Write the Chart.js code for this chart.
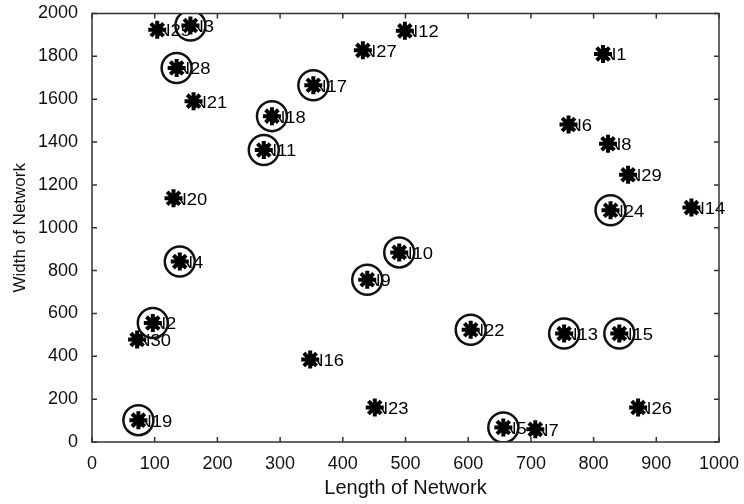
<!DOCTYPE html>
<html>
<head>
<meta charset="utf-8">
<script src="https://cdn.jsdelivr.net/npm/chart.js@4/dist/chart.umd.min.js"></script>
<style>
  html, body { margin: 0; padding: 0; background: #fff; overflow: hidden; }
  #wrap { width: 744px; height: 508px; margin-top: -4px; }
</style>
</head>
<body>
<div id="wrap"><canvas id="networkPlot"></canvas></div>
<script>
// node positions
const nodeIds = [1, 2, 3, 4, 5, 6, 7, 8, 9, 10, 11, 12, 13, 14, 15, 16, 17, 18, 19, 20, 21, 22, 23, 24, 25, 26, 27, 28, 29, 30];
const nodeX = [815, 97, 157, 140, 656, 760, 707, 823, 439, 490, 274, 499, 753, 956, 841, 348, 353, 287, 74, 130, 162, 604, 451, 827, 104, 871, 432, 135, 855, 72];
const nodeY = [1811, 555, 1944, 842, 68, 1482, 59, 1392, 757, 885, 1363, 1919, 506, 1094, 506, 385, 1665, 1521, 102, 1138, 1591, 524, 161, 1082, 1924, 161, 1828, 1746, 1247, 478];
const circledNodes = [2, 3, 4, 5, 9, 10, 11, 13, 15, 17, 18, 19, 22, 24, 28];
const xTicks = [0, 100, 200, 300, 400, 500, 600, 700, 800, 900, 1000];
const yTicks = [0, 200, 400, 600, 800, 1000, 1200, 1400, 1600, 1800, 2000];

var allPoints = [];
var ringPoints = [];
nodeIds.forEach(function (id, i) {
    allPoints.push({ x: nodeX[i], y: nodeY[i], id: id });
    if (circledNodes.indexOf(id) >= 0)
        ringPoints.push({ x: nodeX[i], y: nodeY[i], id: id });
});

const fam = '"Liberation Sans", Arial, sans-serif';

// labels go under the markers, like in the original figure
const nodeLabels = {
    id: 'nodeLabels',
    beforeDatasetsDraw(chart) {
        const ctx = chart.ctx;
        const xs = chart.scales.x, ys = chart.scales.y;
        ctx.save();
        ctx.fillStyle = '#000';
        ctx.font = '16px ' + fam;
        ctx.textAlign = 'left';
        ctx.textBaseline = 'middle';
        allPoints.forEach(p => {
            const px = xs.getPixelForValue(p.x);
            const py = ys.getPixelForValue(p.y);
            ctx.save();
            ctx.translate(px, py + 2);
            ctx.scale(1.15, 1);
            ctx.fillText('N' + p.id, 0, 0);
            ctx.restore();
        });
        ctx.restore();
    }
};

// matlab-ish box with inward ticks
const boxAxes = {
    id: 'boxAxes',
    afterDatasetsDraw(chart) {
        const ctx = chart.ctx;
        const a = chart.chartArea;
        const xs = chart.scales.x, ys = chart.scales.y;
        ctx.save();
        ctx.strokeStyle = '#333';
        ctx.lineWidth = 1.5;
        ctx.strokeRect(a.left, a.top, a.right - a.left, a.bottom - a.top);
        ctx.beginPath();
        xTicks.forEach(v => {
            const px = xs.getPixelForValue(v);
            ctx.moveTo(px, a.bottom); ctx.lineTo(px, a.bottom - 5);
            ctx.moveTo(px, a.top); ctx.lineTo(px, a.top + 5);
        });
        yTicks.forEach(v => {
            const py = ys.getPixelForValue(v);
            ctx.moveTo(a.left, py); ctx.lineTo(a.left + 5, py);
            ctx.moveTo(a.right, py); ctx.lineTo(a.right - 5, py);
        });
        ctx.stroke();
        ctx.restore();
    }
};

const tickFont = { family: fam, size: 18 };

new Chart(document.getElementById('networkPlot'), {
    type: 'scatter',
    data: {
        datasets: [
            {
                label: 'nodes',
                data: allPoints,
                pointStyle: 'star',
                pointRadius: 9,
                pointBorderWidth: 4,
                borderColor: '#000',
                backgroundColor: '#000'
            },
            {
                label: 'selected',
                data: ringPoints,
                pointStyle: 'circle',
                pointRadius: 15,
                pointBorderWidth: 2.5,
                borderColor: '#111',
                backgroundColor: 'rgba(0,0,0,0)'
            }
        ]
    },
    options: {
        responsive: true,
        maintainAspectRatio: false,
        animation: false,
        layout: { padding: { top: 0, right: 25, left: 0, bottom: 0 } },
        plugins: {
            legend: { display: false },
            tooltip: { enabled: false }
        },
        scales: {
            x: {
                type: 'linear',
                min: 0,
                max: 1000,
                afterBuildTicks: s => { s.ticks = xTicks.map(v => ({ value: v })); },
                afterFit: s => { s.height = 62; },
                grid: { display: false },
                border: { display: false },
                ticks: { color: '#111', font: tickFont, padding: 3, maxRotation: 0, callback: v => String(v) },
                title: {
                    display: true,
                    text: 'Length of Network',
                    color: '#111',
                    font: { family: fam, size: 20 },
                    padding: { top: 0, bottom: 4 }
                }
            },
            y: {
                type: 'linear',
                min: 0,
                max: 2000,
                afterBuildTicks: s => { s.ticks = yTicks.map(v => ({ value: v })); },
                afterFit: s => { s.width = 92; },
                grid: { display: false },
                border: { display: false },
                ticks: { color: '#111', font: tickFont, padding: 6, callback: v => String(v) },
                title: {
                    display: true,
                    text: 'Width of Network',
                    color: '#111',
                    font: { family: fam, size: 17 },
                    padding: { top: 10, bottom: 0 }
                }
            }
        }
    },
    plugins: [nodeLabels, boxAxes]
});
</script>
</body>
</html>
